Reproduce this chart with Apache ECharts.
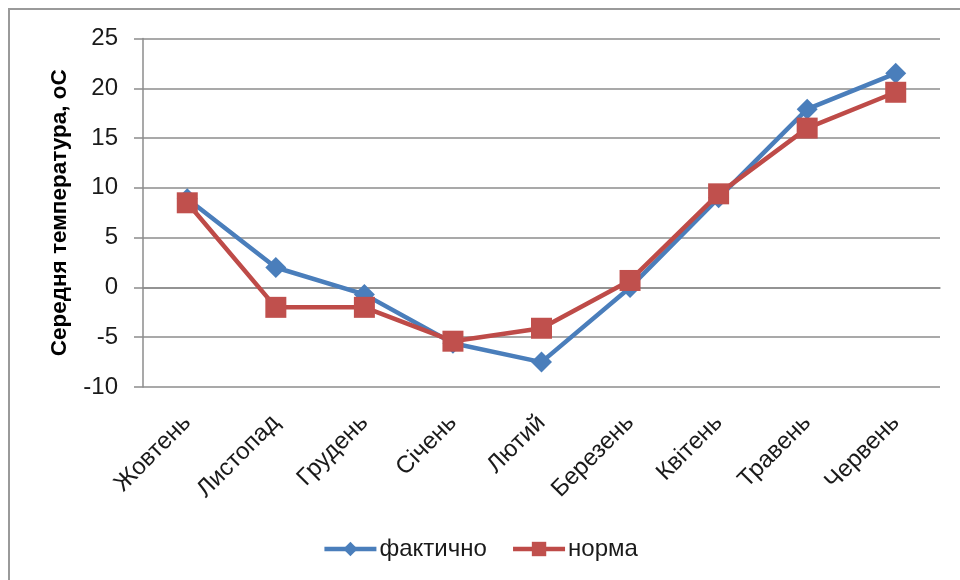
<!DOCTYPE html>
<html>
<head>
<meta charset="utf-8">
<script src="https://cdn.jsdelivr.net/npm/echarts@6/dist/echarts.min.js"></script>
<style>
  html, body { margin: 0; padding: 0; background: #ffffff; }
  #chart { width: 960px; height: 580px; }
</style>
</head>
<body>
<div id="chart"></div>
<script>
// Monthly mean temperature, October to June
const months = ['Жовтень', 'Листопад', 'Грудень', 'Січень', 'Лютий', 'Березень', 'Квітень', 'Травень', 'Червень'];
const actual = [8.9, 2.0, -0.7, -5.6, -7.5, 0.0, 9.0, 17.9, 21.5];
const normal = [8.5, -2.0, -2.0, -5.4, -4.1, 0.7, 9.4, 16.0, 19.6];
const seriesNames = ['фактично', 'норма'];
const yTicks = { min: -10, max: 25, step: 5 };
const yTitle = 'Середня температура, оС';

const font = 'Liberation Sans, Arial, sans-serif';
const gridColor = '#8c8c8c';

const chart = echarts.init(document.getElementById('chart'), null, { renderer: 'canvas' });
chart.setOption({
  backgroundColor: '#ffffff',
  animation: false,
  graphic: [{
    type: 'rect',
    shape: { x: 9, y: 9, width: 1000, height: 600 },
    style: { fill: 'none', stroke: '#9a9a9a', lineWidth: 2 },
    z: -1
  }],
  grid: { left: 143, right: 20, top: 38.5, bottom: 193 },
  legend: {
    bottom: 14,
    left: 'center',
    itemWidth: 52,
    itemHeight: 18,
    itemGap: 24,
    lineStyle: { width: 4.5 },
    textStyle: { fontFamily: font, fontSize: 24, color: '#1a1a1a', padding: [0, 0, 0, -2] },
    data: seriesNames
  },
  xAxis: {
    type: 'category',
    data: months,
    boundaryGap: true,
    axisLine: { show: true, lineStyle: { color: gridColor, width: 1.5 } },
    axisTick: { show: false },
    axisLabel: {
      rotate: 45,
      margin: 32,
      interval: 0,
      fontFamily: font,
      fontSize: 24,
      color: '#1a1a1a'
    }
  },
  yAxis: {
    type: 'value',
    min: yTicks.min,
    max: yTicks.max,
    interval: yTicks.step,
    name: yTitle,
    nameLocation: 'middle',
    nameGap: 72,
    nameTextStyle: { fontFamily: font, fontSize: 22.5, fontWeight: 'bold', color: '#000000' },
    axisLine: { show: true, lineStyle: { color: gridColor, width: 1.5 } },
    axisTick: { show: true, length: 9, lineStyle: { color: gridColor, width: 1.5 } },
    axisLabel: { margin: 25, fontFamily: font, fontSize: 24, color: '#1a1a1a' },
    splitLine: { show: true, lineStyle: { color: gridColor, width: 1.5 } }
  },
  series: [
    {
      name: seriesNames[0],
      type: 'line',
      data: actual,
      symbol: 'diamond',
      symbolSize: 21,
      lineStyle: { color: '#4a7ebb', width: 4.5 },
      itemStyle: { color: '#4a7ebb' },
      z: 2
    },
    {
      name: seriesNames[1],
      type: 'line',
      data: normal,
      symbol: 'rect',
      symbolSize: 21,
      lineStyle: { color: '#be4b48', width: 4.5 },
      itemStyle: { color: '#c0504d' },
      z: 3
    }
  ]
});
</script>
</body>
</html>
